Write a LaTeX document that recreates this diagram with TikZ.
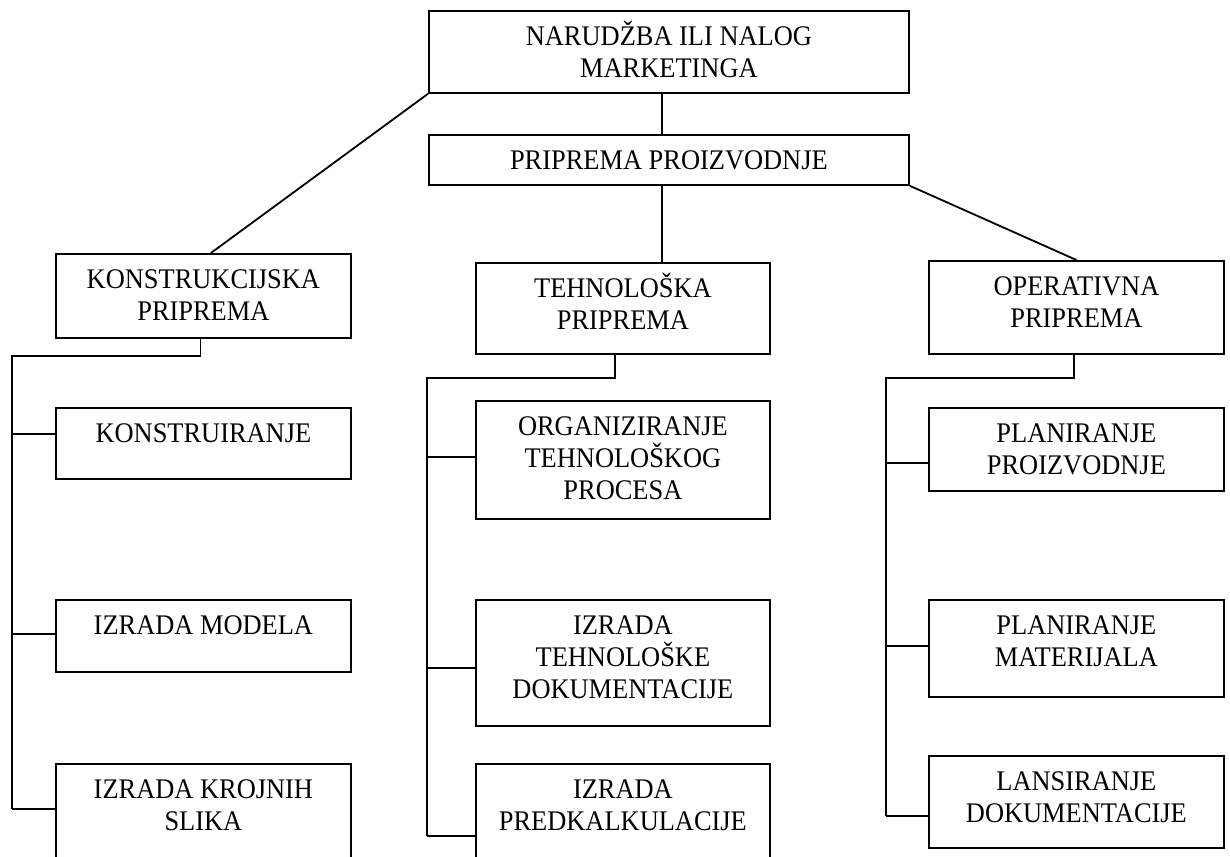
\documentclass[tikz,border=0pt]{standalone}
\usepackage{fontspec}
\setmainfont[FakeStretch=0.93]{Liberation Serif}

\newdimen\pxu
\pxu=0.5pt
% box of fixed size, text at the top
\newcommand{\caja}[3]{\parbox[c][#2\pxu][t]{#1\pxu}{\centering\rule{0pt}{17.5pt}#3}}

\tikzset{
    okvir/.style={draw, line width=0.9pt, inner sep=0pt, anchor=north west,
        font=\fontsize{14.2}{16}\selectfont},
    veza/.style={line width=0.9pt}
}

\begin{document}
\begin{tikzpicture}[x=0.5pt, y=-0.5pt]
        \useasboundingbox (0,0) rectangle (1230,856);

        \node[okvir] (narudzba) at (428,10) {\caja{480}{82}{NARUDŽBA ILI NALOG\\MARKETINGA}};
        \node[okvir] (priprema) at (428,134) {\caja{480}{50}{PRIPREMA PROIZVODNJE}};

        \node[okvir] (konstr) at (55,253) {\caja{295}{84}{KONSTRUKCIJSKA\\PRIPREMA}};
        \node[okvir] (tehno) at (475,262) {\caja{294}{91}{TEHNOLOŠKA\\PRIPREMA}};
        \node[okvir] (oper) at (928,260) {\caja{295}{93}{OPERATIVNA\\PRIPREMA}};

        \node[okvir] (k1) at (55,407) {\caja{295}{71}{KONSTRUIRANJE}};
        \node[okvir] (k2) at (55,599) {\caja{295}{72}{IZRADA MODELA}};
        \node[okvir] (k3) at (55,763) {\caja{295}{110}{IZRADA KROJNIH\\SLIKA}};

        \node[okvir] (t1) at (475,400) {\caja{294}{118}{ORGANIZIRANJE\\TEHNOLOŠKOG\\PROCESA}};
        \node[okvir] (t2) at (475,599) {\caja{294}{126}{IZRADA\\TEHNOLOŠKE\\DOKUMENTACIJE}};
        \node[okvir] (t3) at (475,763) {\caja{294}{110}{IZRADA\\PREDKALKULACIJE}};

        \node[okvir] (o1) at (928,407) {\caja{295}{83}{PLANIRANJE\\PROIZVODNJE}};
        \node[okvir] (o2) at (928,599) {\caja{295}{97}{PLANIRANJE\\MATERIJALA}};
        \node[okvir] (o3) at (928,755) {\caja{295}{92}{LANSIRANJE\\DOKUMENTACIJE}};

        % gornji dio
        \draw[veza] (narudzba.south west) -- ([xshift=3.75pt]konstr.north);
        \draw[veza] ([xshift=-3.5pt]narudzba.south) -- ([xshift=-3.5pt]priprema.north);
        \draw[veza] ([xshift=-3.5pt]priprema.south) -- ([xshift=-3.5pt]priprema.south |- tehno.north);
        \draw[veza] (priprema.south east) -- (oper.north);

        % konstrukcijska priprema
        \draw[veza] ([xshift=-1.5pt]konstr.south) |- (12,356) -- (12,809);
        \foreach \n/\y in {k1/434,k2/634,k3/809}
            \draw[veza] (12,\y) -- (\n.west |- 0,\y);

        % tehnoloska priprema
        \draw[veza] ([xshift=-4pt]tehno.south) |- (427,378) -- (427,836);
        \foreach \n/\y in {t1/457,t2/668,t3/836}
            \draw[veza] (427,\y) -- (\n.west |- 0,\y);

        % operativna priprema
        \draw[veza] ([xshift=-1.25pt]oper.south) |- (886,378) -- (886,816);
        \foreach \n/\y in {o1/463,o2/646,o3/816}
            \draw[veza] (886,\y) -- (\n.west |- 0,\y);
    \end{tikzpicture}
\end{document}
